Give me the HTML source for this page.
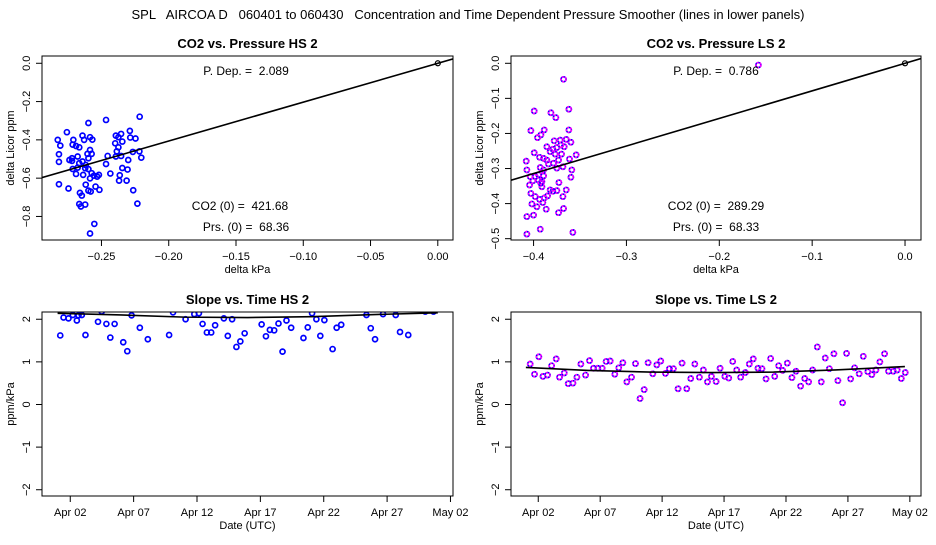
<!DOCTYPE html>
<html><head><meta charset="utf-8"><style>
body{margin:0;background:#fff;width:936px;height:540px;overflow:hidden}
svg text{font-family:"Liberation Sans",sans-serif;fill:#000}
</style></head><body>
<svg id="chart" width="936" height="540" xmlns="http://www.w3.org/2000/svg">
<text x="468" y="19" font-size="13" text-anchor="middle" style="white-space:pre">SPL   AIRCOA D   060401 to 060430   Concentration and Time Dependent Pressure Smoother (lines in lower panels)</text>
</svg>
<script>
// ---- data ----
const hsPx=[-0.2216,-0.2466,-0.2597,-0.2757,-0.2289,-0.2393,-0.2354,-0.2641,-0.2585,-0.2568,-0.2825,-0.2709,-0.2629,-0.2247,-0.2286,-0.2374,-0.2806,-0.2714,-0.2689,-0.2665,-0.2345,-0.2398,-0.2374,-0.2585,-0.2386,-0.2267,-0.2218,-0.2816,-0.2604,-0.2573,-0.2454,-0.2393,-0.2354,-0.2204,-0.2719,-0.2677,-0.2597,-0.2301,-0.2816,-0.2719,-0.2641,-0.2466,-0.2345,-0.2306,-0.2714,-0.2677,-0.2621,-0.2597,-0.2573,-0.2434,-0.2689,-0.2636,-0.2556,-0.2519,-0.2585,-0.2364,-0.2369,-0.2313,-0.2816,-0.2745,-0.2617,-0.2544,-0.2515,-0.2597,-0.2580,-0.2264,-0.2660,-0.2646,-0.2665,-0.2621,-0.2653,-0.2233,-0.2553,-0.2585,-0.2532,-0.2665,-0.2617,-0.2738];
const hsPy=[-0.279,-0.296,-0.312,-0.360,-0.353,-0.378,-0.369,-0.378,-0.386,-0.399,-0.400,-0.400,-0.400,-0.393,-0.388,-0.386,-0.430,-0.425,-0.432,-0.439,-0.409,-0.418,-0.439,-0.453,-0.460,-0.463,-0.460,-0.475,-0.473,-0.473,-0.484,-0.487,-0.484,-0.493,-0.496,-0.487,-0.496,-0.505,-0.515,-0.510,-0.513,-0.526,-0.547,-0.555,-0.552,-0.545,-0.548,-0.553,-0.574,-0.576,-0.578,-0.583,-0.587,-0.583,-0.601,-0.585,-0.613,-0.613,-0.632,-0.654,-0.634,-0.644,-0.661,-0.665,-0.670,-0.663,-0.677,-0.691,-0.735,-0.738,-0.748,-0.733,-0.839,-0.889,-0.592,-0.522,-0.531,-0.505];
const hsSlope=[2.03];
const lsPx=[-0.3677,-0.3993,-0.3620,-0.3813,-0.3760,-0.4029,-0.3885,-0.3620,-0.3957,-0.3921,-0.3778,-0.3713,-0.3648,-0.3598,-0.3993,-0.3857,-0.3821,-0.3792,-0.3749,-0.3706,-0.3670,-0.3541,-0.4079,-0.3935,-0.3892,-0.3767,-0.3699,-0.3613,-0.4072,-0.3928,-0.3839,-0.3731,-0.3684,-0.3588,-0.4036,-0.3982,-0.3946,-0.3892,-0.4007,-0.3910,-0.3727,-0.3598,-0.4043,-0.3921,-0.4029,-0.3982,-0.3935,-0.3885,-0.3849,-0.3792,-0.3749,-0.3648,-0.3684,-0.4018,-0.3900,-0.3864,-0.3677,-0.3731,-0.4000,-0.4072,-0.3928,-0.4072,-0.3577,-0.1579,-0.3964,-0.3910,-0.3857,-0.3785,-0.3749,-0.3821,-0.3946,-0.3892];
const lsPy=[-0.0456,-0.136,-0.131,-0.141,-0.155,-0.192,-0.190,-0.190,-0.212,-0.204,-0.221,-0.219,-0.217,-0.225,-0.255,-0.238,-0.252,-0.245,-0.240,-0.233,-0.238,-0.261,-0.279,-0.268,-0.271,-0.259,-0.259,-0.273,-0.304,-0.297,-0.287,-0.276,-0.295,-0.304,-0.323,-0.323,-0.318,-0.321,-0.335,-0.337,-0.340,-0.325,-0.347,-0.342,-0.371,-0.380,-0.388,-0.384,-0.378,-0.365,-0.363,-0.361,-0.380,-0.401,-0.397,-0.416,-0.414,-0.426,-0.433,-0.437,-0.473,-0.487,-0.482,-0.005,-0.409,-0.352,-0.276,-0.285,-0.299,-0.361,-0.333,-0.304];
const lsSlope=[0.786];
const hsDays=[0.21,0.47,0.86,1.20,1.52,1.65,1.91,2.20,3.19,3.48,3.85,4.16,4.50,5.18,5.50,5.84,6.49,7.12,8.80,9.11,10.10,10.79,11.15,11.44,11.78,12.12,12.43,13.12,13.43,13.77,14.11,14.42,14.76,16.10,16.44,16.75,17.09,17.43,17.75,18.06,18.43,19.40,19.74,20.08,20.42,20.73,21.05,21.70,22.02,22.38,24.37,24.71,25.05,25.68,26.68,27.02,27.67,29.01,29.66];
const hsSlopes=[1.62,2.04,2.02,2.10,1.97,2.09,2.10,1.63,1.94,2.18,1.89,1.57,1.89,1.46,1.25,2.09,1.80,1.53,1.63,2.16,2.00,2.12,2.14,1.89,1.69,1.69,1.86,2.02,1.61,2.00,1.35,1.48,1.67,1.88,1.60,1.75,1.74,1.90,1.24,1.97,1.80,1.56,1.81,2.14,2.00,1.61,1.98,1.30,1.80,1.87,2.10,1.79,1.53,2.12,2.10,1.70,1.63,2.18,2.18];
const hsSmDays=[0,5,10,15,20,25,30];
const hsSmVals=[2.14,2.10,2.05,2.04,2.06,2.11,2.15];
const lsDays=[0.35,0.70,1.05,1.38,1.75,2.08,2.45,2.72,3.10,3.42,3.80,4.12,4.44,4.82,5.14,5.46,5.81,6.16,6.48,6.81,7.18,7.50,7.83,8.15,8.53,8.85,9.22,9.55,9.87,10.25,10.57,10.89,11.27,11.59,11.91,12.29,12.61,12.99,13.31,13.64,14.01,14.33,14.66,14.98,15.36,15.68,16.06,16.38,16.70,17.02,17.34,17.72,18.04,18.36,18.74,19.06,19.39,19.76,20.09,20.41,20.73,21.11,21.48,21.81,22.18,22.51,22.83,23.15,23.53,23.85,24.17,24.50,24.87,25.19,25.57,25.89,26.22,26.54,26.91,27.24,27.61,27.93,28.26,28.58,28.96,29.28,29.66,29.98,30.31,30.63];
const lsSlopes=[0.95,0.71,1.12,0.66,0.69,0.91,1.07,0.64,0.74,0.49,0.50,0.64,0.95,0.69,1.03,0.85,0.85,0.85,1.01,1.02,0.71,0.86,0.98,0.53,0.64,0.96,0.14,0.35,0.98,0.72,0.93,1.02,0.73,0.84,0.84,0.37,0.97,0.37,0.61,0.95,0.64,0.81,0.53,0.66,0.54,0.85,0.66,0.62,1.01,0.81,0.64,0.75,0.95,1.07,0.85,0.84,0.60,1.08,0.66,0.91,0.80,0.97,0.63,0.78,0.43,0.61,0.53,0.81,1.35,0.53,1.09,0.84,1.19,0.56,0.04,1.20,0.60,0.86,0.72,1.13,0.77,0.70,0.81,1.00,1.19,0.78,0.78,0.81,0.61,0.75];
const lsSmDays=[0,5,10,15,20,25,30.6];
const lsSmVals=[0.87,0.80,0.76,0.75,0.76,0.81,0.89];
const dateTicks=[1,6,11,16,21,26,31];
const dateLabels=["Apr 02","Apr 07","Apr 12","Apr 17","Apr 22","Apr 27","May 02"];

const svg=document.getElementById('chart');
const NS='http://www.w3.org/2000/svg';
function mk(tag,attrs,parent){const e=document.createElementNS(NS,tag);for(const k in attrs)e.setAttribute(k,attrs[k]);(parent||svg).appendChild(e);return e;}
function fmt(v,d){return (v<0?'\u2212':'')+Math.abs(v).toFixed(d);}

function panel(p){
  const g=mk('g',{});
  
  
  const sx=v=>p.x0+(v-p.xd[0])/(p.xd[1]-p.xd[0])*(p.x1-p.x0);
  const sy=v=>p.y1-(v-p.yd[0])/(p.yd[1]-p.yd[0])*(p.y1-p.y0);
  const t=mk('text',{x:(p.x0+p.x1)/2,y:p.y0-8,'font-size':13,'font-weight':'bold','text-anchor':'middle'},g);
  t.textContent=p.title;
  
  
  const cid='c'+p.name;
  const cp=mk('clipPath',{id:cid},g);mk('rect',{x:p.x0,y:p.y0,width:p.x1-p.x0,height:p.y1-p.y0},cp);
  const plot=mk('g',{'clip-path':'url(#'+cid+')'},g);
  p.yt.forEach((v,i)=>{const y=sy(v);
    const tk=mk('line',{x1:p.x0-6,x2:p.x0,y1:y,y2:y,stroke:'#000','stroke-width':1},g);
    
    const lb=mk('text',{x:0,y:0,'font-size':11,'text-anchor':'middle',transform:`translate(${p.x0-12},${y}) rotate(-90)`},g);
    lb.textContent=p.ytl[i];
    
  });
  const yl=mk('text',{x:0,y:0,'font-size':11,'text-anchor':'middle',transform:`translate(${p.x0-28},${(p.y0+p.y1)/2}) rotate(-90)`},g);
  yl.textContent=p.ylab;
  p.xt.forEach((v,i)=>{const x=sx(v);
    const tk=mk('line',{x1:x,x2:x,y1:p.y1,y2:p.y1+6,stroke:'#000','stroke-width':1},g);
    
    const lb=mk('text',{x:x,y:p.y1+20,'font-size':11,'text-anchor':'middle'},g);
    lb.textContent=p.xtl[i];
  });
  const xl=mk('text',{x:(p.x0+p.x1)/2,y:p.y1+33,'font-size':11,'text-anchor':'middle'},g);
  xl.textContent=p.xlab;
  p.xs.forEach((v,i)=>{
    const c=mk('circle',{cx:sx(v),cy:sy(p.ys[i]),r:2.5,fill:'none',stroke:'#0000ff','stroke-width':1.7},plot);
    
    if(p.mag){const c2=mk('circle',{cx:sx(v),cy:sy(p.ys[i]),r:2.5,fill:'none',stroke:'#ff00ff','stroke-width':1.7,'stroke-dasharray':'2 1.2'},plot);
      }
  });
  if(p.slope){
    const ln=mk('line',{x1:sx(p.xd[0]),y1:sy(p.xd[0]*p.slope[0]),x2:sx(p.xd[1]),y2:sy(p.xd[1]*p.slope[0]),stroke:'#000','stroke-width':1.6},plot);
    
    const o=mk('circle',{cx:sx(0),cy:sy(0),r:2.5,fill:'none',stroke:'#000','stroke-width':1.2},plot);
    
  }
  if(p.smx){
    const d=p.smx.map((v,i)=>(i?'L':'M')+sx(v)+','+sy(p.smy[i])).join(' ');
    const pl=mk('path',{d:d,fill:'none',stroke:'#000','stroke-width':1.6},plot);
    
  }
  (p.notes||[]).forEach(n=>{const tx=mk('text',{x:n[0],y:n[1],'font-size':12,'text-anchor':'middle',style:'white-space:pre'},g);tx.textContent=n[2];
    });
  const b=mk('rect',{x:p.x0,y:p.y0,width:p.x1-p.x0,height:p.y1-p.y0,fill:'none',stroke:'#000','stroke-width':1},g);
  
}
const yt1=[0,-0.2,-0.4,-0.6,-0.8], yt2=[0,-0.1,-0.2,-0.3,-0.4,-0.5], yt3=[-2,-1,0,1,2];
panel({name:'panel-co2-hs',title:'CO2 vs. Pressure HS 2',x0:42,x1:453,y0:56,y1:240,xd:[-0.2942,0.0113],yd:[-0.923,0.038],
  yt:yt1,ytl:yt1.map(v=>fmt(v,1)),xt:[-0.25,-0.2,-0.15,-0.1,-0.05,0],xtl:[-0.25,-0.2,-0.15,-0.1,-0.05,0].map(v=>fmt(v,2)),
  ylab:'delta Licor ppm',xlab:'delta kPa',xs:hsPx,ys:hsPy,slope:hsSlope,
  notes:[[246,75,'P. Dep. =  2.089'],[240,210,'CO2 (0) =  421.68'],[246,231,'Prs. (0) =  68.36']]});
panel({name:'panel-co2-ls',title:'CO2 vs. Pressure LS 2',x0:511,x1:921,y0:56,y1:240,xd:[-0.4243,0.0172],yd:[-0.5038,0.0208],
  yt:yt2,ytl:yt2.map(v=>fmt(v,1)),xt:[-0.4,-0.3,-0.2,-0.1,0],xtl:[-0.4,-0.3,-0.2,-0.1,0].map(v=>fmt(v,1)),
  ylab:'delta Licor ppm',xlab:'delta kPa',xs:lsPx,ys:lsPy,slope:lsSlope,mag:true,
  notes:[[716,75,'P. Dep. =  0.786'],[716,210,'CO2 (0) =  289.29'],[716,231,'Prs. (0) =  68.33']]});
panel({name:'panel-slope-hs',title:'Slope vs. Time HS 2',x0:42,x1:453,y0:312,y1:496,xd:[-1.23,31.2],yd:[-2.147,2.17],
  yt:yt3,ytl:yt3.map(v=>fmt(v,0)),xt:dateTicks,xtl:dateLabels,ylab:'ppm/kPa',xlab:'Date (UTC)',xs:hsDays,ys:hsSlopes,smx:hsSmDays,smy:hsSmVals});
panel({name:'panel-slope-ls',title:'Slope vs. Time LS 2',x0:511,x1:921,y0:312,y1:496,xd:[-1.2,31.9],yd:[-2.147,2.17],
  yt:yt3,ytl:yt3.map(v=>fmt(v,0)),xt:dateTicks,xtl:dateLabels,ylab:'ppm/kPa',xlab:'Date (UTC)',xs:lsDays,ys:lsSlopes,mag:true,smx:lsSmDays,smy:lsSmVals});
</script>
</body></html>
